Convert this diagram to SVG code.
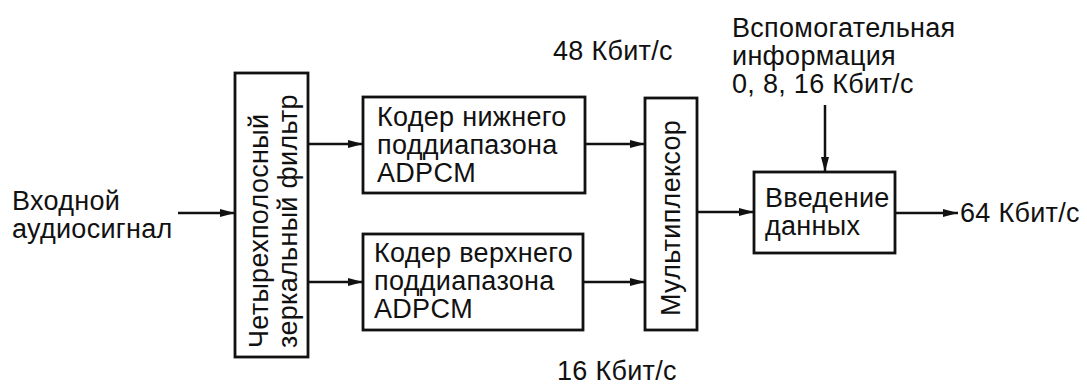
<svg xmlns="http://www.w3.org/2000/svg" width="1087" height="387" viewBox="0 0 1087 387">
<style>
.box{fill:#fff;stroke:#111;stroke-width:2.8}
.t{font-family:"Liberation Sans",Arial,sans-serif;font-size:27px;letter-spacing:0.3px;fill:#111}
.c{stroke:#111;stroke-width:2.5;fill:none}
</style>
<defs>
<marker id="ah" markerUnits="userSpaceOnUse" markerWidth="16" markerHeight="10" refX="15" refY="5" orient="auto">
<path d="M0,1 L15,5 L0,9 Z" fill="#111"/>
</marker>
</defs>
<rect width="1087" height="387" fill="#fff"/>
<g id="input">
<text class="t" x="12" y="210">Входной</text>
<text class="t" x="12" y="238">аудиосигнал</text>
</g>
<g id="filter">
<rect class="box" x="235" y="73" width="73" height="284"/>
<text class="t" transform="translate(268,348) rotate(-90)">Четырехполосный</text>
<text class="t" transform="translate(297,348) rotate(-90)">зеркальный фильтр</text>
</g>
<g id="coder-low">
<rect class="box" x="363" y="97" width="222" height="96"/>
<text class="t" x="377" y="126">Кодер нижнего</text>
<text class="t" x="377" y="154">поддиапазона</text>
<text class="t" x="377" y="182">ADPCM</text>
</g>
<g id="coder-high">
<rect class="box" x="363" y="234" width="220" height="96"/>
<text class="t" x="374" y="262">Кодер верхнего</text>
<text class="t" x="374" y="290">поддиапазона</text>
<text class="t" x="374" y="318">ADPCM</text>
</g>
<g id="mux">
<rect class="box" x="645" y="98" width="52" height="232"/>
<text class="t" transform="translate(680,316) rotate(-90)">Мультиплексор</text>
</g>
<g id="insert">
<rect class="box" x="754" y="172" width="141" height="81"/>
<text class="t" x="765" y="207">Введение</text>
<text class="t" x="765" y="235">данных</text>
</g>
<g id="labels">
<text class="t" x="553" y="60">48 Кбит/с</text>
<text class="t" x="557" y="380">16 Кбит/с</text>
<text class="t" x="732" y="37">Вспомогательная</text>
<text class="t" x="732" y="65">информация</text>
<text class="t" x="732" y="93">0, 8, 16 Кбит/с</text>
<text class="t" x="960" y="222">64 Кбит/с</text>
</g>
<g id="connectors">
<line class="c" x1="178" y1="213" x2="235" y2="213" marker-end="url(#ah)"/>
<line class="c" x1="308" y1="144" x2="363" y2="144" marker-end="url(#ah)"/>
<line class="c" x1="308" y1="282" x2="363" y2="282" marker-end="url(#ah)"/>
<line class="c" x1="585" y1="144" x2="645" y2="144" marker-end="url(#ah)"/>
<line class="c" x1="583" y1="282" x2="645" y2="282" marker-end="url(#ah)"/>
<line class="c" x1="697" y1="212" x2="754" y2="212" marker-end="url(#ah)"/>
<line class="c" x1="825" y1="105" x2="825" y2="172" marker-end="url(#ah)"/>
<line class="c" x1="895" y1="213" x2="958" y2="213" marker-end="url(#ah)"/>
</g>
</svg>
